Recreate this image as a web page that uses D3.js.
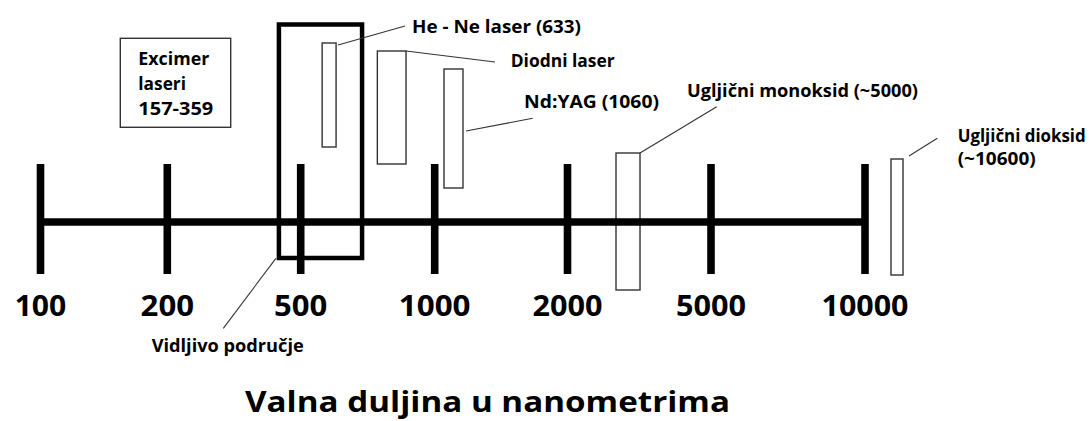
<!DOCTYPE html>
<html>
<head>
<meta charset="utf-8">
<script src="https://cdn.jsdelivr.net/npm/d3@7"></script>
<style>
  html, body { margin: 0; padding: 0; background: #fff; }
  svg { display: block; }
  text { font-family: "Open Sans", Lato, sans-serif; font-weight: 700; fill: #000; }
</style>
</head>
<body>
<svg id="chart" width="1091" height="421"></svg>
<script>
// ---------------- data ----------------
const tickValues = [100, 200, 500, 1000, 2000, 5000, 10000];
const tickLabels = ["100", "200", "500", "1000", "2000", "5000", "10000"];

const laserNames = ["He - Ne laser (633)", "Diodni laser", "Nd:YAG (1060)",
                    "Ugljični monoksid (~5000)", "Ugljični dioksid|(~10600)"];
const laserFrom = [580, 786, 1070, 3014, 10844];   // drawn band start (nm, schematic)
const laserTo   = [632, 893, 1213, 3516, 11234];   // drawn band end (nm, schematic)

const visibleRange = [451, 729];
const visibleLabel = "Vidljivo područje";
const excimerLines = ["Excimer", "laseri", "157-359"];
const axisTitle = "Valna duljina u nanometrima";

// ---------------- layout ----------------
const W = 1091, H = 421;
const tickPx = [40.5, 167.3, 300.7, 434.7, 567.5, 711, 865]; // hand-drawn tick spacing
const axisY = 222, tickTop = 164, tickBottom = 274;
const tickLabelWidth = [51.7, 53.4, 53.3, 71.7, 70, 70, 87];

// vertical extents of laser bars and label placement
const barTop    = [43, 51, 69, 153, 159];
const barBottom = [147, 164, 188, 290, 275];
const leaderStart = [[2, 2], [0, 0], [3, 62], [0, 0], [6, -3]]; // offsets from bar right/top
const leaderEnd   = [[405, 26], [495, 62], [532.7, 118.3], [716.7, 106.7], [937.3, 138.3]];
const labelPos    = [[412, 32.5], [510.7, 66.7], [524, 108.3], [687, 97], [957.7, 141.7]];
const labelWidth  = [169, 104, 135, 231, 128];
const labelWidth2 = 78;
const excimerWidth = [71, 47.7, 75];

const svg = d3.select("#chart");
svg.append("rect").attr("width", W).attr("height", H).attr("fill", "#fff");

const x = d3.scaleLinear().domain(tickValues).range(tickPx);

// visible region box (behind axis)
svg.append("rect")
  .attr("x", x(visibleRange[0])).attr("y", 24.5)
  .attr("width", x(visibleRange[1]) - x(visibleRange[0]))
  .attr("height", 258 - 24.5)
  .attr("fill", "none").attr("stroke", "#000").attr("stroke-width", 4.5);

// laser bars
const bars = svg.append("g");
laserNames.forEach((name, i) => {
  bars.append("rect")
    .attr("x", x(laserFrom[i])).attr("y", barTop[i])
    .attr("width", x(laserTo[i]) - x(laserFrom[i]))
    .attr("height", barBottom[i] - barTop[i])
    .attr("fill", "none").attr("stroke", "#333").attr("stroke-width", 1.4);
});

// axis line + ticks
svg.append("line")
  .attr("x1", x(tickValues[0])).attr("x2", x(tickValues[tickValues.length - 1]))
  .attr("y1", axisY).attr("y2", axisY)
  .attr("stroke", "#000").attr("stroke-width", 7.7);

svg.append("g").selectAll("line").data(tickValues).join("line")
  .attr("x1", d => x(d)).attr("x2", d => x(d))
  .attr("y1", tickTop).attr("y2", tickBottom)
  .attr("stroke", "#000").attr("stroke-width", 7.6);

svg.append("g").selectAll("text").data(tickValues).join("text")
  .attr("x", d => x(d)).attr("y", 316)
  .attr("text-anchor", "middle")
  .attr("font-size", 28)
  .attr("textLength", (d, i) => tickLabelWidth[i]).attr("lengthAdjust", "spacingAndGlyphs")
  .text((d, i) => tickLabels[i]);

// leaders & labels
laserNames.forEach((name, i) => {
  const sx = x(laserTo[i]) + leaderStart[i][0];
  const sy = barTop[i] + leaderStart[i][1];
  svg.append("line")
    .attr("x1", sx).attr("y1", sy)
    .attr("x2", leaderEnd[i][0]).attr("y2", leaderEnd[i][1])
    .attr("stroke", "#333").attr("stroke-width", 1.1);
  const parts = name.split("|");
  svg.append("text")
    .attr("x", labelPos[i][0]).attr("y", labelPos[i][1])
    .attr("font-size", 17)
    .attr("textLength", labelWidth[i]).attr("lengthAdjust", "spacingAndGlyphs")
    .text(parts[0]);
  if (parts[1]) {
    svg.append("text")
      .attr("x", labelPos[i][0]).attr("y", labelPos[i][1] + 23.3)
      .attr("font-size", 17)
      .attr("textLength", labelWidth2).attr("lengthAdjust", "spacingAndGlyphs")
      .text(parts[1]);
  }
});

// visible region leader + label
svg.append("line")
  .attr("x1", x(visibleRange[0]) - 3).attr("y1", 258.3)
  .attr("x2", 223.3).attr("y2", 328.3)
  .attr("stroke", "#333").attr("stroke-width", 1.1);
svg.append("text")
  .attr("x", 151.7).attr("y", 351.7)
  .attr("font-size", 17)
  .attr("textLength", 152).attr("lengthAdjust", "spacingAndGlyphs")
  .text(visibleLabel);

// excimer box
svg.append("rect")
  .attr("x", 120.3).attr("y", 38.3).attr("width", 110.4).attr("height", 89)
  .attr("fill", "#fff").attr("stroke", "#333").attr("stroke-width", 1.4);
svg.append("g").selectAll("text").data(excimerLines).join("text")
  .attr("x", 138.3).attr("y", (d, i) => 65 + i * 25)
  .attr("font-size", 17)
  .attr("textLength", (d, i) => excimerWidth[i]).attr("lengthAdjust", "spacingAndGlyphs")
  .text(d => d);

// axis title
svg.append("text")
  .attr("x", 245).attr("y", 411.7)
  .attr("font-size", 29)
  .attr("textLength", 485).attr("lengthAdjust", "spacingAndGlyphs")
  .text(axisTitle);
</script>
</body>
</html>
